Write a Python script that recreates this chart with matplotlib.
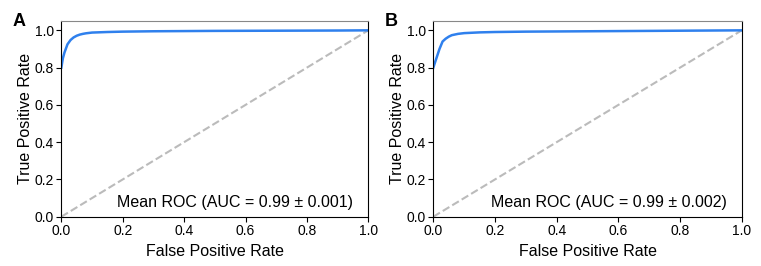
import matplotlib.pyplot as plt
import numpy as np

plt.rcParams['font.family'] = ['Liberation Sans', 'DejaVu Sans']

# mean ROC curves
fpr_a = [0.0, 0.005, 0.01, 0.02, 0.03, 0.04, 0.05, 0.06, 0.07, 0.08, 0.1, 0.15, 0.2, 0.3, 0.5, 0.7, 0.9, 1.0]
tpr_a = [0.80, 0.85, 0.88, 0.925, 0.948, 0.962, 0.971, 0.977, 0.981, 0.984, 0.988, 0.991, 0.993, 0.995, 0.997, 0.998, 0.999, 1.0]
fpr_b = [0.0, 0.01, 0.02, 0.03, 0.04, 0.05, 0.06, 0.08, 0.1, 0.15, 0.2, 0.3, 0.5, 0.7, 0.9, 1.0]
tpr_b = [0.80, 0.85, 0.90, 0.94, 0.955, 0.966, 0.974, 0.981, 0.985, 0.989, 0.991, 0.993, 0.995, 0.997, 0.999, 1.0]
auc_text = ['Mean ROC (AUC = 0.99 \u00b1 0.001)', 'Mean ROC (AUC = 0.99 \u00b1 0.002)']
panels = ['A', 'B']

fig = plt.figure(figsize=(7.61, 2.66), dpi=100)
ax_a = fig.add_axes([0.0806, 0.1853, 0.4034, 0.7357])
ax_b = fig.add_axes([0.5694, 0.1853, 0.4053, 0.7357])

for ax, fx, ty, txt, lab in zip([ax_a, ax_b], [fpr_a, fpr_b], [tpr_a, tpr_b], auc_text, panels):
    ax.plot([0, 1], [0, 1], linestyle='--', color='#bbbbbb', lw=1.5)
    ax.plot(fx, ty, color='#2f80ed', lw=1.8)
    ax.set_xlim(0, 1.0)
    ax.set_ylim(0, 1.05)
    ax.set_xticks([0, 0.2, 0.4, 0.6, 0.8, 1.0])
    ax.set_yticks([0, 0.2, 0.4, 0.6, 0.8, 1.0])
    ax.tick_params(labelsize=10, length=3.5, width=0.8, pad=2)
    ax.set_xlabel('False Positive Rate', fontsize=11.5, labelpad=4)
    ax.set_ylabel('True Positive Rate', fontsize=11.5, labelpad=1)
    ax.spines['top'].set_color('#888888')
    ax.text(0.951, 0.05, txt, transform=ax.transAxes, ha='right', va='baseline', fontsize=11.5)
    ax.text(-0.158, 0.976, lab, transform=ax.transAxes, fontsize=13, fontweight='bold',
            ha='left', va='baseline')

fig.savefig('out.png', dpi=100)
